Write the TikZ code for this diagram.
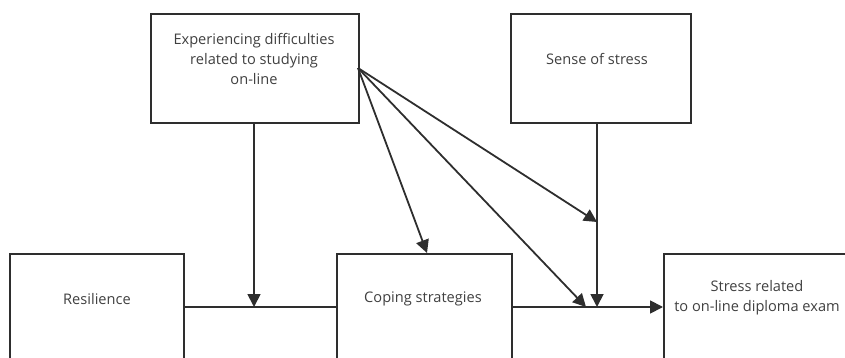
\documentclass[tikz,border=0pt]{standalone}
\usepackage{fontspec}
\setmainfont{Open Sans}
\usetikzlibrary{arrows.meta}

\definecolor{linegrey}{HTML}{2E2E2E}
\definecolor{textgrey}{HTML}{404040}

\tikzset{
	box/.style={draw=linegrey, line width=1.8pt, fill=white, inner sep=0pt, anchor=north west},
	boxtext/.style={text=textgrey, align=center, font=\fontsize{14.6}{20}\selectfont, inner sep=0pt},
	link/.style={draw=linegrey, line width=1.8pt, -{Triangle[length=13pt,width=13pt]}},
	plain/.style={draw=linegrey, line width=1.8pt}
}

\begin{document}
\begin{tikzpicture}[x=1pt, y=-1pt]
	\useasboundingbox (0,0) rectangle (845,358);
	\clip (0,0) rectangle (845,358);

	%% boxes
	\node [box, minimum width=208pt, minimum height=109pt]  (diff)  at (150,13)  {};
	\node [box, minimum width=180pt, minimum height=109pt]  (sense) at (510,13)  {};
	\node [box, minimum width=174pt, minimum height=130pt]  (res)   at (9,253)   {};
	\node [box, minimum width=175pt, minimum height=130pt]  (cop)   at (336,253) {};
	\node [box, minimum width=200pt, minimum height=130pt]  (exam)  at (663,253) {};

	%% texts
	\node [boxtext]  (difft)  at (254,59)  {Experiencing difficulties\\related to studying\\on-line};
	\node [boxtext]  (senset) at (597,59)  {Sense of stress};
	\node [boxtext]  (rest)   at (97,299)  {Resilience};
	\node [boxtext]  (copt)   at (423,299) {Coping strategies};
	\node [boxtext]  (examt)  at (757,298) {Stress related\\to on-line diploma exam};

	%% junctions
	\coordinate (src) at (358,68);
	\coordinate (j1)  at (254,307);
	\coordinate (j2)  at (597,222);
	\coordinate (j3)  at (597,307);
	\coordinate (j4)  at (586,307);

	%% connectors
	\draw [plain]  (res.north east |- j1) -- (cop.north west |- j1);
	\draw [link]   (diff.south -| j1) -- (j1);
	\draw [link]   (cop.north east |- j3) -- (exam.north west |- j3);
	\draw [link]   (sense.south -| j3) -- (j3);
	\draw [link]   (src) -- (427,253);
	\draw [link]   (src) -- (j2);
	\draw [link]   (src) -- (j4);

\end{tikzpicture}
\end{document}
